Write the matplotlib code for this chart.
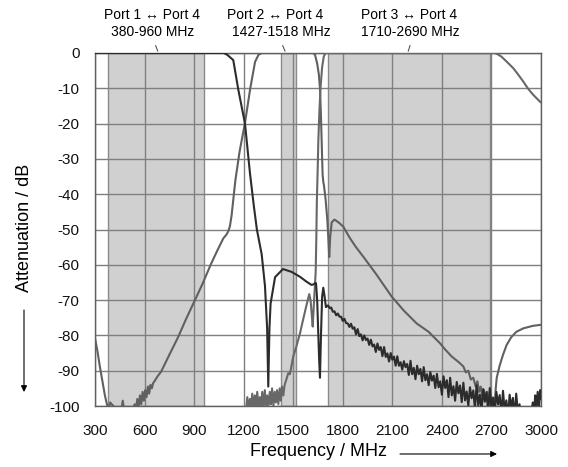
import matplotlib
matplotlib.use("Agg")
import matplotlib.pyplot as plt

plt.rcParams['font.family'] = ['Liberation Sans', 'DejaVu Sans']

# ---------------- data ----------------
# Port 1 <-> Port 4 (low-pass, dark curve)
port1_freq = [300, 1000, 1080, 1100, 1137, 1168, 1208, 1238, 1262, 1280, 1309, 1329, 1342, 1349,
              1356, 1363, 1390, 1438, 1490, 1541, 1581, 1611, 1625, 1632, 1638, 1645, 1652, 1657,
              1662, 1668, 1675, 1682, 1690, 1698, 1710, 1722,
              1730, 1740, 1750, 1760, 1770, 1780, 1790, 1800, 1810, 1820, 1830, 1840, 1850, 1860,
              1870, 1880, 1890, 1900, 1910, 1920, 1930, 1940, 1950, 1960, 1970, 1980, 1990, 2000,
              2010, 2020, 2030, 2040, 2050, 2060, 2070, 2080, 2090, 2100, 2110, 2120, 2130, 2140,
              2150, 2160, 2170, 2180, 2190, 2200, 2210, 2220, 2230, 2240, 2250, 2260, 2270, 2280,
              2290, 2300, 2310, 2320, 2330, 2340, 2350, 2360, 2370, 2380, 2390, 2400, 2410, 2420,
              2430, 2440, 2450, 2460, 2470, 2480, 2490, 2500, 2510, 2520, 2530, 2540, 2550, 2560,
              2570, 2580, 2590, 2600, 2610, 2620, 2630, 2640, 2650, 2660, 2670, 2680, 2690, 2700,
              2710, 2720, 2730, 2740, 2750, 2760, 2770, 2780, 2790, 2800, 2810, 2820, 2830, 2840,
              2850, 2860, 2870, 2880, 2940, 2950, 2958, 2965, 2972, 2980, 2988, 2995, 3000]
port1_db = [0, 0, 0, -0.5, -2, -10.5, -20, -34, -43.5, -50, -57, -66, -78, -94.5,
            -78, -71, -63.5, -61.2, -62, -63.4, -64.8, -65.7, -65.5, -65.2, -65.2, -70, -80, -87,
            -92, -80, -69, -66.5, -69, -72, -71.5, -72.3,
            -72.1, -73.3, -73.2, -74.3, -73.8, -74.7, -74.7, -75.9, -75.3, -76.5, -76.6, -77.6, -76.7, -78.1,
            -77.7, -79.7, -78.2, -80.2, -79.7, -81.4, -80.0, -81.3, -80.9, -82.7, -81.2, -83.1, -82.6, -84.7,
            -82.3, -84.1, -83.3, -85.9, -83.3, -86.1, -85.1, -87.4, -85.0, -86.9, -86.0, -88.6, -85.9, -88.6,
            -87.6, -89.7, -87.3, -89.0, -88.1, -91.2, -87.2, -91.0, -89.2, -92.4, -88.6, -91.0, -89.5, -93.0,
            -89.0, -92.7, -91.0, -94.1, -90.4, -92.8, -91.4, -94.9, -90.9, -94.7, -93.0, -96.8, -91.6, -94.9,
            -92.7, -97.5, -92.0, -97.0, -94.4, -98.5, -93.2, -96.4, -94.2, -98.9, -93.4, -98.4, -95.9, -99.9,
            -94.7, -97.8, -95.6, -100.7, -94.1, -99.8, -96.8, -101.4, -95.2, -98.8, -96.1, -101.5, -94.9, -100.6,
            -97.6, -102.2, -96.0, -99.6, -96.9, -102.3, -95.7, -101.4, -98.4, -103, -96.8, -100.4, -97.7, -103,
            -96.5, -102, -99.5, -103, -103, -99, -102, -97, -101, -96, -100, -95.5, -98]

# Port 2 <-> Port 4 (band-pass, grey curve)
port2_freq = [300, 315, 330, 345, 360, 372, 382, 392, 430, 460, 468, 476, 500, 530, 540, 548, 556,
              564, 572, 580, 588, 596, 604, 612, 620, 628, 636, 644, 652, 660, 680, 700,
              750, 804, 850, 905, 950, 1000, 1040, 1077, 1095, 1107, 1117, 1127, 1137, 1150, 1175,
              1208, 1240, 1269, 1290, 1310, 1620, 1632, 1645, 1655, 1662, 1668, 1674, 1678, 1682,
              1686, 1695, 1706, 1712, 1718, 1724, 1733, 1749, 1760, 1780, 1803, 1844, 1880, 1924,
              2000, 2096, 2170, 2247, 2320, 2388, 2420, 2460, 2500, 2530, 2545, 2560, 2575, 2590,
              2605, 2615, 2625, 2635, 2645, 2655, 2665, 2675, 2685, 2695, 2705, 2712, 2720, 2726,
              2732, 2750, 2770, 2792, 2820, 2850, 2893, 2950, 3000]
port2_db = [-80.8, -84.5, -89, -93, -97, -99.5, -101, -99, -101, -101, -98.5, -101, -101, -101, -99.5, -101, -98,
            -100.5, -97, -99.5, -96, -98.5, -95.5, -97.5, -94.5, -96.5, -94, -95, -93.5, -93, -91.5, -90.3,
            -85.5, -80.4, -75.5, -70, -65.5, -60, -56, -52.5, -51.5, -50.5, -49, -46, -41.6, -36, -28,
            -19.8, -10, -2.5, -0.5, 0, 0, -0.5, -3, -6, -10, -18, -28, -34.5, -36.5,
            -37.5, -41, -47, -52, -57.8, -52, -48, -47.2, -47.5, -48.2, -49.2, -52.5, -55, -57.7,
            -62.5, -69, -73, -76.6, -79, -82.2, -84, -86, -87.5, -88.8, -90.5, -90, -92.5, -92,
            -94.5, -93, -96, -94.5, -97.5, -95.5, -98.5, -96, -99.5, -97, -100.5, -98, -99, -95,
            -92, -88.5, -85.5, -82.7, -80.5, -79, -78, -77.3, -77]

# Port 3 <-> Port 4 (band-pass, grey curve)
port3_freq = [1215, 1222, 1230, 1238, 1245, 1252, 1260, 1268, 1275, 1282, 1290, 1298, 1305, 1312,
              1320, 1328, 1335, 1342, 1350, 1358, 1365, 1372, 1380, 1388, 1395, 1402, 1410, 1418,
              1425, 1432, 1440, 1448, 1455, 1470, 1480, 1500, 1520, 1541, 1560, 1580, 1597, 1605,
              1612, 1618, 1624, 1630, 1636, 1640, 1643, 1648, 1652, 1658, 1665, 1675, 1685, 1695,
              2720, 2735, 2760, 2800, 2832, 2860, 2893, 2920, 2950, 2994, 3000]
port3_db = [-101, -97.5, -101, -98, -101, -96.5, -100.5, -97, -101, -96, -100, -97.5, -101, -96,
            -100, -95.5, -100.5, -97, -100, -96, -99.5, -95, -100, -96, -99, -95.5, -99.5, -95,
            -98.5, -94.5, -97, -94, -93, -90.7, -91, -86, -83, -79.4, -75.5, -71.5, -68.3, -70,
            -74, -77.5, -72, -67, -62, -52, -42, -33, -25, -17, -10, -4, -1, 0,
            0, -0.3, -1, -2.8, -4.3, -6, -8.1, -10, -11.7, -13.8, -14]

# shaded pass bands (MHz)
band_starts = [380, 1427, 1710]
band_ends = [960, 1518, 2690]
band_titles = ["Port 1 \u2194 Port 4", "Port 2 \u2194 Port 4", "Port 3 \u2194 Port 4"]
band_ranges = ["380-960 MHz", "1427-1518 MHz", "1710-2690 MHz"]

x_ticks = [300, 600, 900, 1200, 1500, 1800, 2100, 2400, 2700, 3000]
y_ticks = [0, -10, -20, -30, -40, -50, -60, -70, -80, -90, -100]

# ---------------- figure ----------------
W, H = 568, 467
fig = plt.figure(figsize=(W / 100, H / 100), dpi=100)
ax = fig.add_axes([95 / W, 1 - 406 / H, (541 - 95) / W, (406 - 53) / H])

for s, e in zip(band_starts, band_ends):
    ax.axvspan(s, e, facecolor='#d0d0d0', edgecolor='#8a8a8a', linewidth=1.0, zorder=0)

ax.set_xlim(300, 3000)
ax.set_ylim(-100, 0)
ax.set_xticks(x_ticks)
ax.set_yticks(y_ticks)
ax.set_xticklabels([str(t) for t in x_ticks])
ax.set_yticklabels([str(t) for t in y_ticks])
ax.grid(True, color='#7f7f7f', linewidth=1.0, zorder=1)
ax.set_axisbelow(True)
ax.tick_params(axis='both', length=0, labelsize=11, colors='#111111')
ax.tick_params(axis='y', pad=11)
ax.tick_params(axis='x', pad=13)
for sp in ax.spines.values():
    sp.set_color('#606060')
    sp.set_linewidth(1.0)

ax.plot(port2_freq, port2_db, color='#606060', linewidth=1.5, zorder=3)
ax.plot(port3_freq, port3_db, color='#686868', linewidth=1.5, zorder=3)
ax.plot(port1_freq, port1_db, color='#2c2c2c', linewidth=1.5, zorder=4)

# band annotations (pixel positions from top-left)
title_x = [151.5, 275, 409]
range_x = [153, 281.7, 410.5]
lead_x0 = [155.7, 282.7, 410]
lead_x1 = [157.7, 285, 408.3]
for i in range(3):
    fig.text(title_x[i] / W, 1 - 15 / H, band_titles[i], ha='center', va='center', fontsize=10)
    fig.text(range_x[i] / W, 1 - 31.5 / H, band_ranges[i], ha='center', va='center', fontsize=10)
    fig.add_artist(plt.Line2D([lead_x0[i] / W, lead_x1[i] / W], [1 - 45.7 / H, 1 - 51 / H],
                              transform=fig.transFigure, color='#555555', linewidth=0.8))

# axis labels with arrows
fig.text(318 / W, 1 - 451 / H, "Frequency / MHz", ha='center', va='center', fontsize=13)
fig.text(24.5 / W, 1 - 228 / H, "Attenuation / dB", ha='center', va='center', fontsize=13,
         rotation=90)
fig.add_artist(matplotlib.patches.FancyArrowPatch((400 / W, 1 - 454 / H), (497 / W, 1 - 454 / H),
               transform=fig.transFigure, arrowstyle='-|>', mutation_scale=9, color='black',
               linewidth=0.8, shrinkA=0, shrinkB=0))
fig.add_artist(matplotlib.patches.FancyArrowPatch((24 / W, 1 - 310 / H), (24 / W, 1 - 392 / H),
               transform=fig.transFigure, arrowstyle='-|>', mutation_scale=9, color='black',
               linewidth=0.8, shrinkA=0, shrinkB=0))

fig.savefig("out.png", dpi=100)
